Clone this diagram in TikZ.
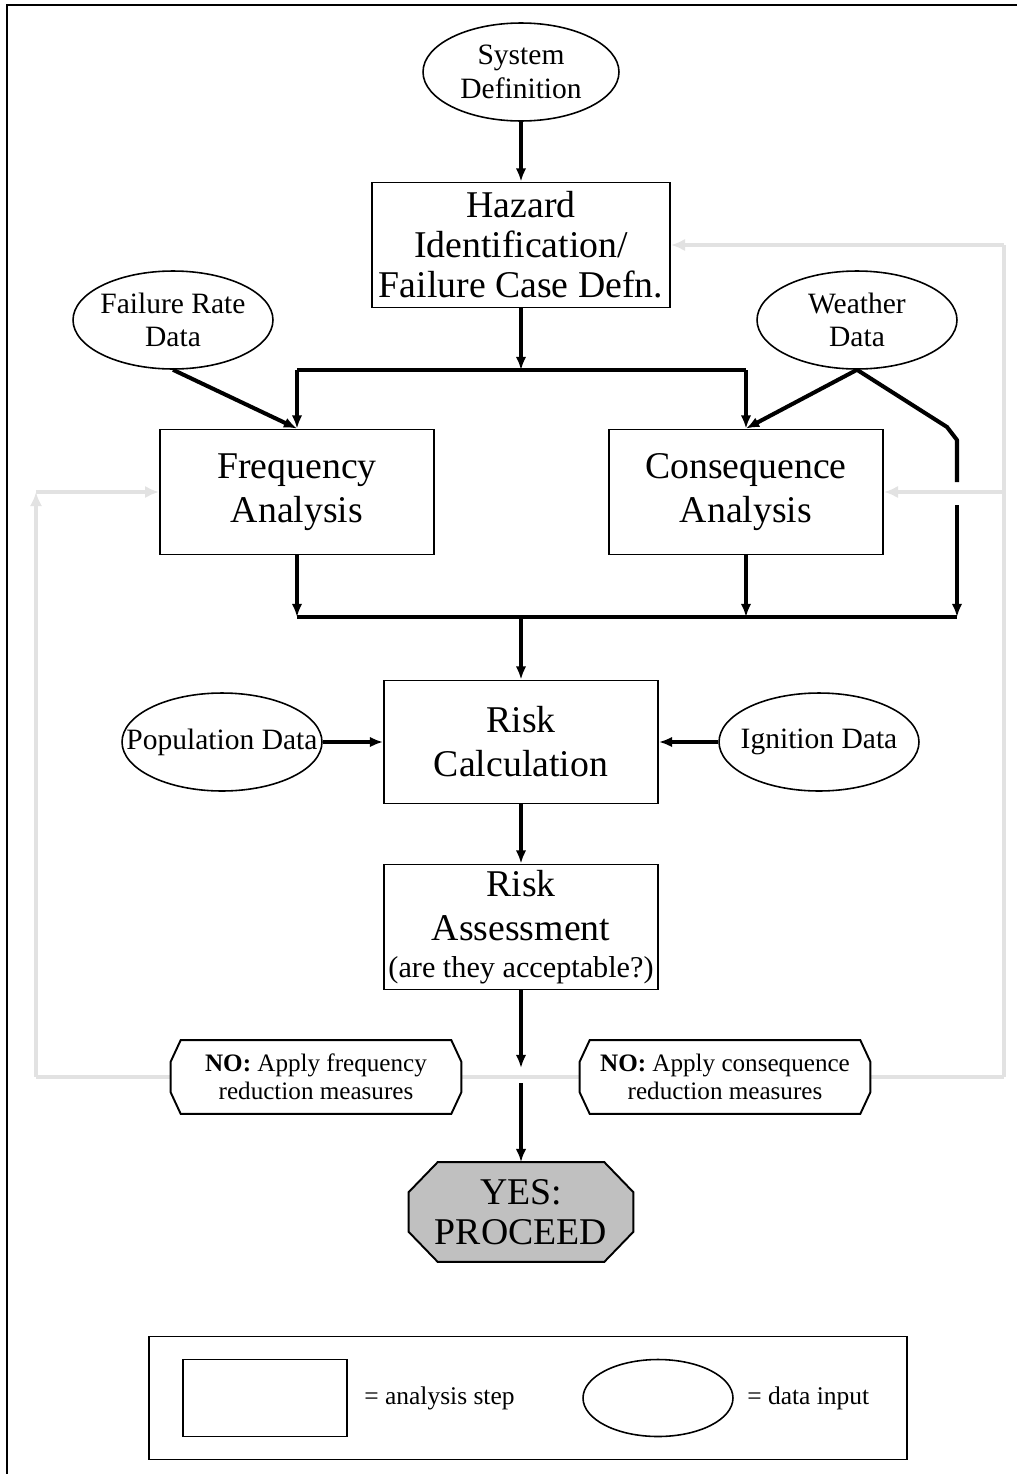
\documentclass[tikz,border=0pt]{standalone}
\usepackage{fontspec}
\setmainfont{Liberation Serif}
\usetikzlibrary{arrows.meta,shapes.geometric,backgrounds}
\definecolor{fbgrey}{RGB}{226,226,226}
\definecolor{yesgrey}{RGB}{192,192,192}
\newcommand{\octagonpath}[3]{([xshift=#2]#1.north west) -- ([xshift=-#2]#1.north east) -- ([yshift=-#3]#1.north east) -- ([yshift=#3]#1.south east) -- ([xshift=-#2]#1.south east) -- ([xshift=#2]#1.south west) -- ([yshift=#3]#1.south west) -- ([yshift=-#3]#1.north west) -- cycle}
\newcommand{\zerobox}[1]{\makebox[0pt]{#1}}
\begin{document}
\begin{tikzpicture}[x=0.02cm,y=-0.02cm,
  stepbox/.style={draw,line width=1.1pt,minimum width=5.48cm,minimum height=2.5cm,align=center,inner sep=0pt,font=\fontsize{21.5}{25}\selectfont},
  datain/.style={draw,ellipse,line width=0.9pt,minimum width=4cm,minimum height=1.96cm,inner sep=0pt,align=center,font=\fontsize{16.8}{19}\selectfont},
  blk/.style={line width=2.3pt,-{Latex[length=7.5pt,width=6pt]}},
  blkline/.style={line width=2.3pt},
  fbline/.style={draw=fbgrey,line width=2.8pt},
  fbk/.style={draw=fbgrey,line width=2.8pt,-{Latex[length=8pt,width=7pt]},color=fbgrey},
  nobox/.style={minimum width=5.8cm,minimum height=1.46cm,inner sep=0pt,align=center,font=\fontsize{14.3}{16}\selectfont},
  yesbox/.style={minimum width=4.48cm,minimum height=1.98cm,inner sep=0pt,align=center,font=\fontsize{21.5}{23}\selectfont},
  octline/.style={draw,line width=1.1pt},
  legtext/.style={anchor=west,inner sep=0pt,font=\fontsize{14.5}{16}\selectfont}
]
\useasboundingbox (0,0) rectangle (1017,1474);
% frame
\draw[line width=1.7pt] (7,1474) -- (7,5) -- (1017,5);

% nodes
\node[datain,minimum width=3.92cm] (sys) at (521,72) {\zerobox{System}\\\zerobox{Definition}};
\node[stepbox,minimum width=5.96cm,font=\fontsize{21.5}{22.8}\selectfont] (haz) at (521,245) {Hazard\\Identification/\\Failure Case Defn.};
\node[datain] (fr) at (173,320) {\zerobox{Failure Rate}\\\zerobox{Data}};
\node[datain] (wd) at (857,320) {\zerobox{Weather}\\\zerobox{Data}};
\node[stepbox] (freq) at (297,492) {Frequency\\Analysis};
\node[stepbox] (cons) at (746,492) {Consequence\\Analysis};
\node[stepbox,minimum height=2.46cm] (rc) at (521,742) {Risk\\Calculation};
\node[datain] (pop) at (222,742) {\zerobox{Population Data}};
\node[datain] (ign) at (819,742) {\zerobox{Ignition Data}};
\node[stepbox] (ra) at (521,927) {Risk\\Assessment\\[-4pt]{\fontsize{17.2}{19}\selectfont (are they acceptable?)}};
\node[nobox] (no1) at (316,1077) {\textbf{NO:} Apply frequency\\reduction measures};
\node[nobox] (no2) at (725,1077) {\textbf{NO:} Apply consequence\\reduction measures};
\node[yesbox] (yes) at (521,1212) {YES:\\PROCEED};

% black connectors
\coordinate (busT) at (521,370);
\coordinate (busTL) at (297,370);
\coordinate (busTR) at (746,370);
\coordinate (wr1) at (947,427);
\coordinate (wr2) at (957,440);
\coordinate (wr3) at (957,482);
\coordinate (wr4) at (957,505);
\coordinate (busBR) at (957,617);
\coordinate (busBL) at (297,617);
\coordinate (busBC) at (746,617);
\coordinate (busB) at (521,617);
\coordinate (jA) at (521,1068);
\coordinate (jB) at (521,1083);

\draw[blk] (sys.south) -- (haz.north);
\draw[blk] (haz.south) -- (busT);
\draw[blkline] (busTL) -- (busTR);
\draw[blk] (busTL) -- (freq.north);
\draw[blk] (busTR) -- (cons.north);
\draw[blk] (fr.south) -- (freq.north);
\draw[blk] (wd.south) -- (cons.north);
\draw[blkline,line join=round] (wd.south) -- (wr1) -- (wr2) -- (wr3);
\draw[blk] (wr4) -- (busBR);
\draw[blk] (freq.south) -- (busBL);
\draw[blk] (cons.south) -- (busBC);
\draw[blkline] (busBL) -- (busBR);
\draw[blk] (busB) -- (rc.north);
\draw[blk] (pop.east) -- (rc.west);
\draw[blk] (ign.west) -- (rc.east);
\draw[blk] (rc.south) -- (ra.north);
\draw[blk] (ra.south) -- (jA);
\draw[blk] (jB) -- (yes.north);

% grey feedback connectors and octagon outlines behind the texts
\coordinate (gL) at (36,1077);
\coordinate (gR) at (1004,1077);
\coordinate (gLT) at (36,492);
\coordinate (gRT) at (1004,245);
\coordinate (gRM) at (1004,492);
\begin{pgfonlayer}{background}
\draw[fbline] (gL) -- (gR);
\draw[fbk] (gL) -- (gLT);
\draw[fbk] (gLT) -- (freq.west);
\draw[fbline] (gR) -- (gRT);
\draw[fbk] (gRT) -- (haz.east);
\draw[fbk] (gRM) -- (cons.east);
\draw[octline,fill=white] \octagonpath{no1}{0.2cm}{0.43cm};
\draw[octline,fill=white] \octagonpath{no2}{0.2cm}{0.43cm};
\draw[octline,fill=yesgrey] \octagonpath{yes}{0.58cm}{0.6cm};
\end{pgfonlayer}

% legend
\node[draw,line width=1.1pt,minimum width=15.16cm,minimum height=2.46cm] (leg) at (528,1398) {};
\node[draw,line width=1.1pt,minimum width=3.28cm,minimum height=1.54cm] (legbox) at (265,1398) {};
\node[legtext] (legt1) at (364,1398) {= analysis step};
\node[draw,ellipse,line width=0.9pt,minimum width=3cm,minimum height=1.54cm] (legell) at (658,1398) {};
\node[legtext] (legt2) at (747,1398) {= data input};
\end{tikzpicture}
\end{document}
